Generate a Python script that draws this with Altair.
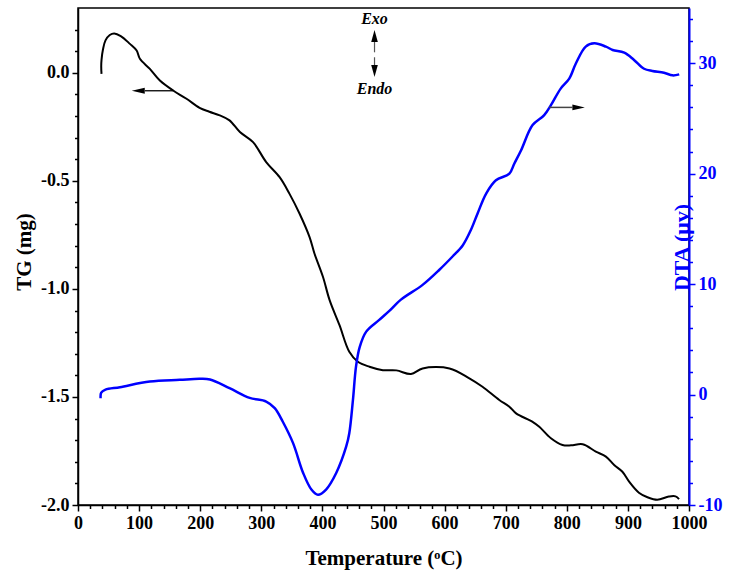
import altair as alt
import pandas as pd

# ---- TG curve (mass change, mg) ----
tg_temp = [38.5, 38.0, 38.5, 41, 45, 52, 59.3, 70, 85, 96, 101.3, 117.6, 134, 155.7,
           177.6, 199, 215, 232, 248, 265, 286.5, 308, 330, 346, 362.7, 379, 387,
           401, 411.8, 428, 444, 458, 477, 499, 521, 545, 564, 608, 640.5, 662,
           689.5, 706, 717, 744, 755, 774, 793, 807, 826, 847.5, 864, 877.5, 891,
           902, 918, 932, 948, 967, 978, 983.7]
tg_mg = [-0.005, 0.03, 0.06, 0.11, 0.15, 0.175, 0.182, 0.17, 0.134, 0.103, 0.065,
         0.018, -0.036, -0.082, -0.12, -0.162, -0.18, -0.197, -0.22, -0.274,
         -0.321, -0.413, -0.483, -0.559, -0.652, -0.76, -0.836, -0.945, -1.052,
         -1.168, -1.291, -1.337, -1.36, -1.376, -1.377, -1.394, -1.368, -1.368,
         -1.414, -1.453, -1.514, -1.545, -1.576, -1.615, -1.638, -1.691, -1.722,
         -1.724, -1.719, -1.753, -1.776, -1.815, -1.846, -1.892, -1.943, -1.964,
         -1.976, -1.961, -1.96, -1.973]

# ---- DTA curve (µV) ----
dta_temp = [37, 38, 45, 68.6, 117.6, 166.7, 199, 216, 248, 281, 308, 322, 335, 352,
            368.5, 382, 392.7, 406, 422.6, 439, 444, 450, 455, 461, 471.7, 493,
            510, 528, 564, 591.5, 613, 629.6, 643, 654, 668, 684, 706, 714, 725,
            744, 763, 774, 790, 804, 815, 831, 845, 864, 875, 894, 910, 926.5,
            940, 959, 973, 984]
dta_uv = [-0.33, 0.18, 0.45, 0.67, 1.18, 1.33, 1.42, 1.36, 0.58, -0.3, -0.63,
          -1.23, -2.44, -4.4, -7.1, -8.6, -9.08, -8.6, -7.1, -4.7, -3.5, -0.48,
          2.53, 4.3, 5.7, 6.76, 7.6, 8.57, 9.93, 11.3, 12.5, 13.5, 14.9, 16.4,
          18.2, 19.4, 20.0, 20.9, 22.1, 24.4, 25.3, 26.2, 27.7, 28.6, 30.0, 31.5,
          31.8, 31.5, 31.2, 30.95, 30.3, 29.5, 29.3, 29.14, 28.9, 28.99]

# ---- axis ticks ----
x_ticks = list(range(0, 1001, 20))
tg_ticks = [round(-2.0 + 0.1 * i, 1) for i in range(23)]
dta_ticks = list(range(-10, 35, 2))

# ---- annotations (data units) ----
tg_arrow_t = [109.5, 156.0]          # arrow pointing to the TG axis
tg_arrow_y = -0.083
tg_head_t = 98.6
dta_arrow_t = [771.0, 809.0]         # arrow pointing to the DTA axis
dta_arrow_y = 26.0
dta_head_t = 819.3
exo_t = 485.3
exo_text_y = [0.248, -0.076]
exo_labels = ["Exo", "Endo"]
up_line = [0.143, 0.095]
down_line = [0.072, 0.035]
up_head_y = 0.170
down_head_y = 0.008

FONT = "Liberation Serif"
BLUE = "#0000FF"
MINUS = "\u2212"

tg_df = pd.DataFrame({"t": tg_temp, "tg": tg_mg, "i": range(len(tg_temp))})
dta_df = pd.DataFrame({"t": dta_temp, "dta": dta_uv, "i": range(len(dta_temp))})

major_x = "datum.value % 100 === 0"
major_tg = "abs(datum.value * 2 - round(datum.value * 2)) < 0.001"
major_dta = "datum.value % 10 === 0"

x_enc = alt.X(
    "t:Q",
    scale=alt.Scale(domain=[0, 1000], nice=False, zero=False),
    axis=alt.Axis(
        values=x_ticks,
        title="Temperature (ᵒC)",
        labelExpr=f"{major_x} ? format(datum.value, 'd') : ''",
        tickSize={"condition": {"test": major_x, "value": 6}, "value": 3.5},
        tickColor="black", tickWidth=1.5, domainColor="black", domainWidth=1.5,
        labelFont=FONT, labelFontSize=18, labelFontWeight="bold", labelColor="black",
        labelPadding=3, labelFlush=False,
        titleFont=FONT, titleFontSize=21, titleFontWeight="bold", titleColor="black",
        titleBaseline="alphabetic", titleY=59, grid=False,
    ),
)

tg_enc = alt.Y(
    "tg:Q",
    scale=alt.Scale(domain=[-2.0, 0.3], nice=False, zero=False),
    axis=alt.Axis(
        orient="left",
        values=tg_ticks,
        title="TG (mg)",
        labelExpr=f"{major_tg} ? replace(format(datum.value, '.1f'), '{MINUS}', '-') : ''",
        tickSize={"condition": {"test": major_tg, "value": 6}, "value": 3.5},
        tickColor="black", tickWidth=1.5, domainColor="black", domainWidth=1.5,
        labelFont=FONT, labelFontSize=18, labelFontWeight="bold", labelColor="black",
        labelPadding=3, labelFlush=False,
        titleFont=FONT, titleFontSize=21, titleFontWeight="bold", titleColor="black",
        titleAngle=270, titleBaseline="alphabetic", titleX=-48, titleY=243.5,
        grid=False,
    ),
)

dta_enc = alt.Y(
    "dta:Q",
    scale=alt.Scale(domain=[-10, 35], nice=False, zero=False),
    axis=alt.Axis(
        orient="right",
        values=dta_ticks,
        title="DTA (μv)",
        labelExpr=f"{major_dta} ? replace(datum.label, '{MINUS}', '-') : ''",
        tickSize={"condition": {"test": major_dta, "value": 6}, "value": 3.5},
        tickColor=BLUE, tickWidth=1.5, domainColor=BLUE, domainWidth=2,
        labelFont=FONT, labelFontSize=18, labelFontWeight="bold", labelColor=BLUE,
        labelPadding=3, labelFlush=False,
        titleFont=FONT, titleFontSize=22, titleFontWeight="bold", titleColor=BLUE,
        titleAngle=270, titleBaseline="alphabetic", titleX=-1, titleY=239,
        grid=False,
    ),
)

# ---- TG group (left axis) ----
tg_line = alt.Chart(tg_df).mark_line(
    color="black", strokeWidth=2, interpolate="catmull-rom"
).encode(x=x_enc, y=tg_enc, order="i:Q")
tg_arrow_line = alt.Chart(
    pd.DataFrame({"t": tg_arrow_t, "tg": [tg_arrow_y] * 2})
).mark_line(color="black", strokeWidth=1.3).encode(x=x_enc, y=tg_enc)
tg_arrow_head = alt.Chart(
    pd.DataFrame({"t": [tg_head_t], "tg": [tg_arrow_y]})
).mark_point(
    shape="M -1 0 L 1 -0.45 L 1 0.45 Z", filled=True, color="black", opacity=1, size=169
).encode(x=x_enc, y=tg_enc)

exo_text = alt.Chart(
    pd.DataFrame({"t": [exo_t] * 2, "tg": exo_text_y, "label": exo_labels})
).mark_text(
    font=FONT, fontSize=16, fontWeight="bold", fontStyle="italic",
    color="black", baseline="middle", align="center"
).encode(x=x_enc, y=tg_enc, text="label:N")
exo_up_line = alt.Chart(
    pd.DataFrame({"t": [exo_t] * 2, "tg": up_line})
).mark_line(color="#555555", strokeWidth=1.2).encode(x=x_enc, y=tg_enc)
exo_down_line = alt.Chart(
    pd.DataFrame({"t": [exo_t] * 2, "tg": down_line})
).mark_line(color="#555555", strokeWidth=1.2).encode(x=x_enc, y=tg_enc)
exo_up_head = alt.Chart(
    pd.DataFrame({"t": [exo_t], "tg": [up_head_y]})
).mark_point(
    shape="M 0 -1 L -0.55 1 L 0.55 1 Z", filled=True, color="black", opacity=1, size=144
).encode(x=x_enc, y=tg_enc)
exo_down_head = alt.Chart(
    pd.DataFrame({"t": [exo_t], "tg": [down_head_y]})
).mark_point(
    shape="M 0 1 L -0.55 -1 L 0.55 -1 Z", filled=True, color="black", opacity=1, size=144
).encode(x=x_enc, y=tg_enc)

tg_group = alt.layer(
    tg_line, tg_arrow_line, tg_arrow_head,
    exo_up_line, exo_down_line, exo_up_head, exo_down_head, exo_text,
)

# ---- DTA group (right axis) ----
dta_line = alt.Chart(dta_df).mark_line(
    color=BLUE, strokeWidth=2.5, interpolate="catmull-rom"
).encode(x=x_enc, y=dta_enc, order="i:Q")
dta_arrow_line = alt.Chart(
    pd.DataFrame({"t": dta_arrow_t, "dta": [dta_arrow_y] * 2})
).mark_line(color="#444444", strokeWidth=1.5).encode(x=x_enc, y=dta_enc)
dta_arrow_head = alt.Chart(
    pd.DataFrame({"t": [dta_head_t], "dta": [dta_arrow_y]})
).mark_point(
    shape="M 1 0 L -1 -0.45 L -1 0.45 Z", filled=True, color="black", opacity=1, size=154
).encode(x=x_enc, y=dta_enc)

dta_group = alt.layer(dta_line, dta_arrow_line, dta_arrow_head)

chart = (
    alt.layer(tg_group, dta_group)
    .resolve_scale(y="independent")
    .properties(
        width=611,
        height=497,
        autosize=alt.AutoSizeParams(type="none"),
        padding={"left": 78, "top": 8, "right": 46, "bottom": 66},
        background="white",
    )
    .configure_view(stroke="black", strokeWidth=1.5)
)

chart.save("out.html", embed_options={"renderer": "svg", "actions": False})
